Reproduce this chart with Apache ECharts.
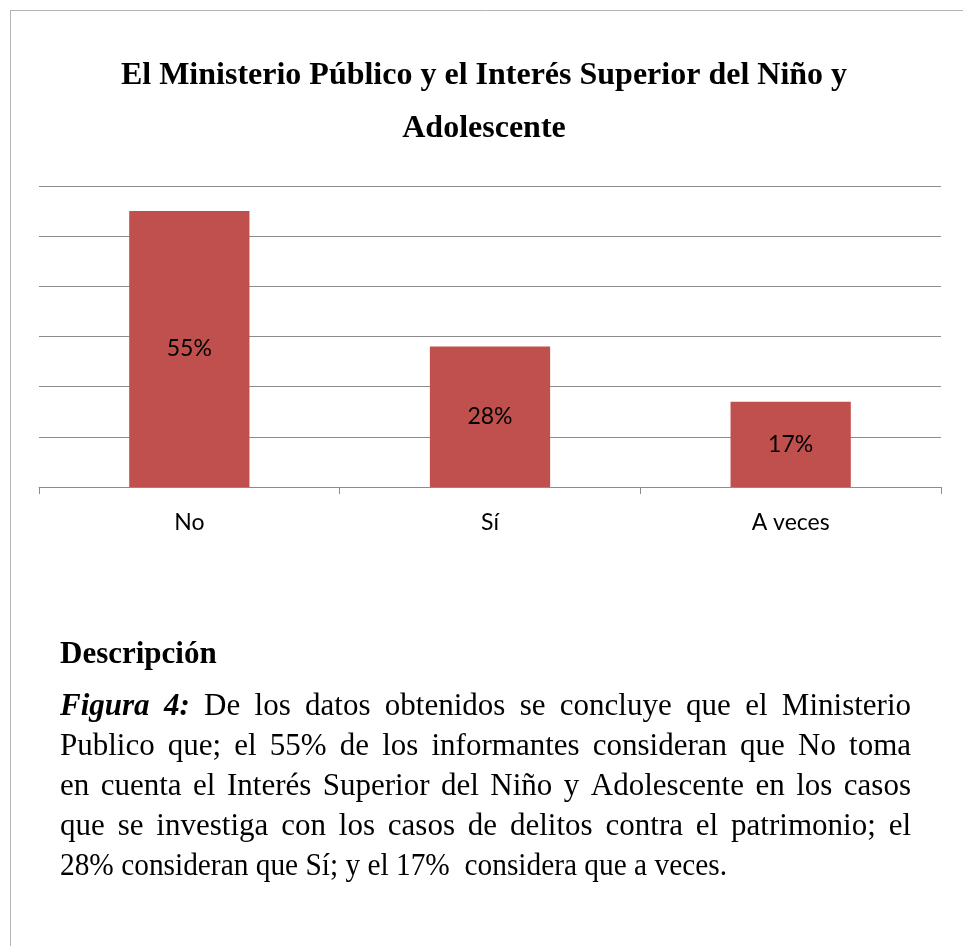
<!DOCTYPE html>
<html>
<head>
<meta charset="utf-8">
<script src="https://cdn.jsdelivr.net/npm/echarts@6/dist/echarts.min.js"></script>
<style>
  html, body { margin: 0; padding: 0; background: #fff; }
  #chart { width: 963px; height: 946px; }
</style>
</head>
<body>
<div id="chart"></div>
<script>
// datos del gráfico
const categorias = ['No', 'Sí', 'A veces']
const porcentajes = [55, 28, 17]
const etiquetas = ['55%', '28%', '17%']

const titulo = 'El Ministerio Público y el Interés Superior del Niño y\nAdolescente'
const subtitulo = 'Descripción'
// líneas del párrafo (la primera empieza con "Figura 4:" en negrita cursiva)
const lineas = [
  [['Figura', 'bi'], ['4:', 'bi'], 'De', 'los', 'datos', 'obtenidos', 'se', 'concluye', 'que', 'el', 'Ministerio'],
  ['Publico', 'que;', 'el', '55%', 'de', 'los', 'informantes', 'consideran', 'que', 'No', 'toma'],
  ['en', 'cuenta', 'el', 'Interés', 'Superior', 'del', 'Niño', 'y', 'Adolescente', 'en', 'los', 'casos'],
  ['que', 'se', 'investiga', 'con', 'los', 'casos', 'de', 'delitos', 'contra', 'el', 'patrimonio;', 'el'],
  ['28%', 'consideran', 'que', 'Sí;', 'y', 'el', '17%', '', 'considera', 'que', 'a', 'veces.']
]

const serif = '"Liberation Serif", "Times New Roman", serif'
const sans = 'Lato, "Open Sans", sans-serif'

// medir palabras para justificar el texto
const ctx = document.createElement('canvas').getContext('2d')
function fuente(estilo, size) {
  return (estilo === 'bi' ? 'italic bold ' : '') + size + 'px ' + serif
}
function ancho(txt, estilo, size) {
  ctx.font = fuente(estilo, size)
  return ctx.measureText(txt).width
}

function parrafo() {
  const size = 31
  const x0 = 60
  const x1 = 911
  const base0 = 707
  const paso = 40
  const anchoUltima = 667 // la última línea sale más estrecha en el original
  const elems = []
  lineas.forEach((linea, i) => {
    const palabras = linea.map(p => Array.isArray(p) ? { t: p[0], s: p[1] } : { t: p, s: '' })
    const anchos = palabras.map(p => ancho(p.t, p.s, size))
    const total = anchos.reduce((a, b) => a + b, 0)
    const ultima = i === lineas.length - 1
    const esp = ancho(' ', '', size)
    const hueco = ultima ? esp : (x1 - x0 - total) / (palabras.length - 1)
    const natural = total + esp * (palabras.length - 1)
    const k = ultima ? anchoUltima / natural : 1
    let x = 0
    palabras.forEach((p, j) => {
      if (p.t) {
        elems.push({
          type: 'text',
          x: x0 + x * k,
          y: base0 + i * paso,
          scaleX: k,
          style: {
            text: p.t,
            font: fuente(p.s, size),
            fill: '#000',
            verticalAlign: 'middle'
          }
        })
      }
      x += anchos[j] + hueco
    })
  })
  return elems
}

const myChart = echarts.init(document.getElementById('chart'))
myChart.setOption({
  animation: false,
  backgroundColor: '#fff',
  title: {
    text: titulo,
    left: 479,
    top: 44,
    textAlign: 'center',
    textStyle: {
      fontFamily: serif,
      fontWeight: 'bold',
      fontSize: 32,
      lineHeight: 53,
      color: '#000'
    }
  },
  grid: {
    left: 39,
    right: 22,
    top: 186,
    bottom: 459
  },
  xAxis: {
    type: 'category',
    data: categorias,
    axisLine: { lineStyle: { color: '#8c8c8c', width: 1 } },
    axisTick: { show: true, length: 7, lineStyle: { color: '#8c8c8c' } },
    axisLabel: {
      margin: 24,
      fontFamily: sans,
      fontSize: 23,
      color: '#000'
    }
  },
  yAxis: {
    type: 'value',
    min: 0,
    max: 60,
    interval: 10,
    axisLabel: { show: false },
    axisLine: { show: false },
    axisTick: { show: false },
    splitLine: { lineStyle: { color: '#8c8c8c', width: 1 } }
  },
  series: [
    {
      type: 'bar',
      data: porcentajes,
      barWidth: '40%',
      itemStyle: { color: '#c0504d' },
      label: {
        show: true,
        position: 'inside',
        formatter: p => etiquetas[p.dataIndex],
        fontFamily: sans,
        fontSize: 23,
        color: '#000'
      }
    }
  ],
  graphic: [
    // marco de la página
    { type: 'line', shape: { x1: 10.5, y1: 10, x2: 10.5, y2: 946 }, style: { stroke: '#b4b4b4', lineWidth: 1 } },
    { type: 'line', shape: { x1: 10, y1: 10.5, x2: 963, y2: 10.5 }, style: { stroke: '#b4b4b4', lineWidth: 1 } },
    {
      type: 'text',
      x: 60,
      y: 655,
      style: {
        text: subtitulo,
        font: 'bold 31px ' + serif,
        fill: '#000',
        verticalAlign: 'middle'
      }
    }
  ].concat(parrafo())
})
</script>
</body>
</html>
